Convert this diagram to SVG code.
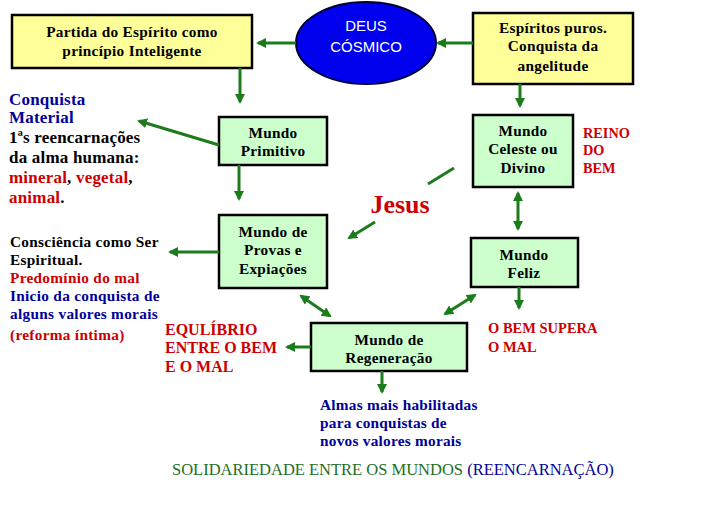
<svg xmlns="http://www.w3.org/2000/svg" width="718" height="516" viewBox="0 0 718 516">
<defs>
<style>
.box{stroke:#000;stroke-width:2.5}
.y{fill:#ffff99}
.g{fill:#ccffcc}
.t{font-family:"Liberation Serif","Times New Roman",serif;font-weight:bold;font-size:15.3px;letter-spacing:0.3px;fill:#000}
.c{text-anchor:middle}
.red{fill:#cc0000}
.blue{fill:#000099}
.blk{fill:#000}
.big{font-size:17px;letter-spacing:0.2px}
.conn line{stroke:#1c7c1c;stroke-width:3}
</style>
<marker id="ah" viewBox="0 0 10 10" refX="8" refY="5" markerWidth="10" markerHeight="10" markerUnits="userSpaceOnUse" orient="auto-start-reverse">
<path d="M0,0 L10,5 L0,10 z" fill="#1c7c1c"/>
</marker>
</defs>
<rect width="718" height="516" fill="#fff"/>

<g id="deus">
<ellipse cx="366" cy="43" rx="70" ry="41" fill="#0000ee" stroke="#000033" stroke-width="2"/>
<text x="366" y="30.5" font-family="Liberation Sans,Arial,sans-serif" font-size="15" fill="#fff" text-anchor="middle">DEUS</text>
<text x="366" y="51.5" font-family="Liberation Sans,Arial,sans-serif" font-size="15" fill="#fff" text-anchor="middle">CÓSMICO</text>
</g>

<g id="partida">
<rect class="box y" x="12" y="15" width="240" height="53"/>
<text class="t c" x="132" y="37">Partida do Espírito como</text>
<text class="t c" x="132" y="56">princípio Inteligente</text>
</g>

<g id="puros">
<rect class="box y" x="473" y="13" width="160" height="71"/>
<text class="t c" x="553" y="33">Espíritos puros.</text>
<text class="t c" x="553" y="51">Conquista da</text>
<text class="t c" x="553" y="71">angelitude</text>
</g>

<g id="primitivo">
<rect class="box g" x="219" y="117" width="108" height="48"/>
<text class="t c" x="273" y="138">Mundo</text>
<text class="t c" x="273" y="156">Primitivo</text>
</g>

<g id="celeste">
<rect class="box g" x="473" y="115" width="100" height="72"/>
<text class="t c" x="523" y="136">Mundo</text>
<text class="t c" x="523" y="154">Celeste ou</text>
<text class="t c" x="523" y="173">Divino</text>
</g>

<g id="provas">
<rect class="box g" x="219" y="215" width="108" height="73"/>
<text class="t c" x="273" y="237">Mundo de</text>
<text class="t c" x="273" y="255">Provas e</text>
<text class="t c" x="273" y="274">Expiações</text>
</g>

<g id="feliz">
<rect class="box g" x="471" y="238" width="107" height="49"/>
<text class="t c" x="524" y="260">Mundo</text>
<text class="t c" x="524" y="278">Feliz</text>
</g>

<g id="regeneracao">
<rect class="box g" x="311" y="323" width="156" height="48"/>
<text class="t c" x="389" y="345">Mundo de</text>
<text class="t c" x="389" y="363">Regeneração</text>
</g>

<g id="conquista-material">
<text x="9" y="105" class="t big blue">Conquista</text>
<text x="9" y="123" class="t big blue">Material</text>
<text x="9" y="143" class="t big blk">1ªs reencarnações</text>
<text x="9" y="163" class="t big blk">da alma humana:</text>
<text x="9" y="183" class="t big red">mineral<tspan class="blk">,</tspan> vegetal<tspan class="blk">,</tspan></text>
<text x="9" y="203" class="t big red">animal<tspan class="blk">.</tspan></text>
</g>

<g id="consciencia">
<text x="10" y="247" class="t blk">Consciência como Ser</text>
<text x="10" y="265" class="t blk">Espiritual.</text>
<text x="10" y="283" class="t red">Predomínio do mal</text>
<text x="10" y="301" class="t blue">Inicio da conquista de</text>
<text x="10" y="319" class="t blue">alguns valores morais</text>
<text x="10" y="340" class="t red">(reforma íntima)</text>
</g>

<g id="equilibrio">
<text x="165" y="335" class="t red" style="font-size:16px;letter-spacing:0">EQULÍBRIO</text>
<text x="165" y="353" class="t red" style="font-size:16px;letter-spacing:0">ENTRE O BEM</text>
<text x="165" y="372" class="t red" style="font-size:16px;letter-spacing:0">E O MAL</text>
</g>

<g id="bem-supera">
<text x="488" y="333" class="t red" style="font-size:14.5px;letter-spacing:0">O BEM SUPERA</text>
<text x="488" y="352" class="t red" style="font-size:14.5px;letter-spacing:0">O MAL</text>
</g>

<g id="reino">
<text x="583" y="138" class="t red" style="font-size:14.3px;letter-spacing:0">REINO</text>
<text x="583" y="155" class="t red" style="font-size:14.3px;letter-spacing:0">DO</text>
<text x="583" y="173" class="t red" style="font-size:14.3px;letter-spacing:0">BEM</text>
</g>

<g id="almas">
<text x="320" y="410" class="t blue" style="letter-spacing:0.25px">Almas mais habilitadas</text>
<text x="320" y="428" class="t blue" style="letter-spacing:0.25px">para conquistas de</text>
<text x="320" y="446" class="t blue" style="letter-spacing:0.25px">novos valores morais</text>
</g>

<g id="jesus">
<text x="400" y="213" class="t red c" style="font-size:26px;letter-spacing:0">Jesus</text>
</g>

<g id="solidariedade">
<text x="172" y="475" font-family="Liberation Serif,Times New Roman,serif" font-size="16.5" fill="#1e6e1e">SOLIDARIEDADE ENTRE OS MUNDOS <tspan fill="#000099">(REENCARNAÇÃO)</tspan></text>
</g>

<g id="connectors" class="conn">
<line x1="296" y1="43" x2="258" y2="43" marker-end="url(#ah)"/>
<line x1="473" y1="43" x2="438" y2="43" marker-end="url(#ah)"/>
<line x1="240" y1="68" x2="240" y2="102" marker-end="url(#ah)"/>
<line x1="520" y1="84" x2="520" y2="106" marker-end="url(#ah)"/>
<line x1="219" y1="145" x2="139" y2="121" marker-end="url(#ah)"/>
<line x1="239" y1="165" x2="239" y2="199" marker-end="url(#ah)"/>
<line x1="219" y1="252" x2="170" y2="252" marker-end="url(#ah)"/>
<line x1="301" y1="296" x2="330" y2="316" marker-start="url(#ah)" marker-end="url(#ah)"/>
<line x1="311" y1="347" x2="287" y2="347" marker-end="url(#ah)"/>
<line x1="382" y1="371" x2="382" y2="392" marker-end="url(#ah)"/>
<line x1="445" y1="314" x2="475" y2="295" marker-start="url(#ah)" marker-end="url(#ah)"/>
<line x1="519" y1="287" x2="519" y2="308" marker-end="url(#ah)"/>
<line x1="518" y1="193" x2="518" y2="229" marker-start="url(#ah)" marker-end="url(#ah)"/>
<line x1="454" y1="168" x2="428" y2="184"/>
<line x1="375" y1="222" x2="349" y2="238" marker-end="url(#ah)"/>
</g>
</svg>
